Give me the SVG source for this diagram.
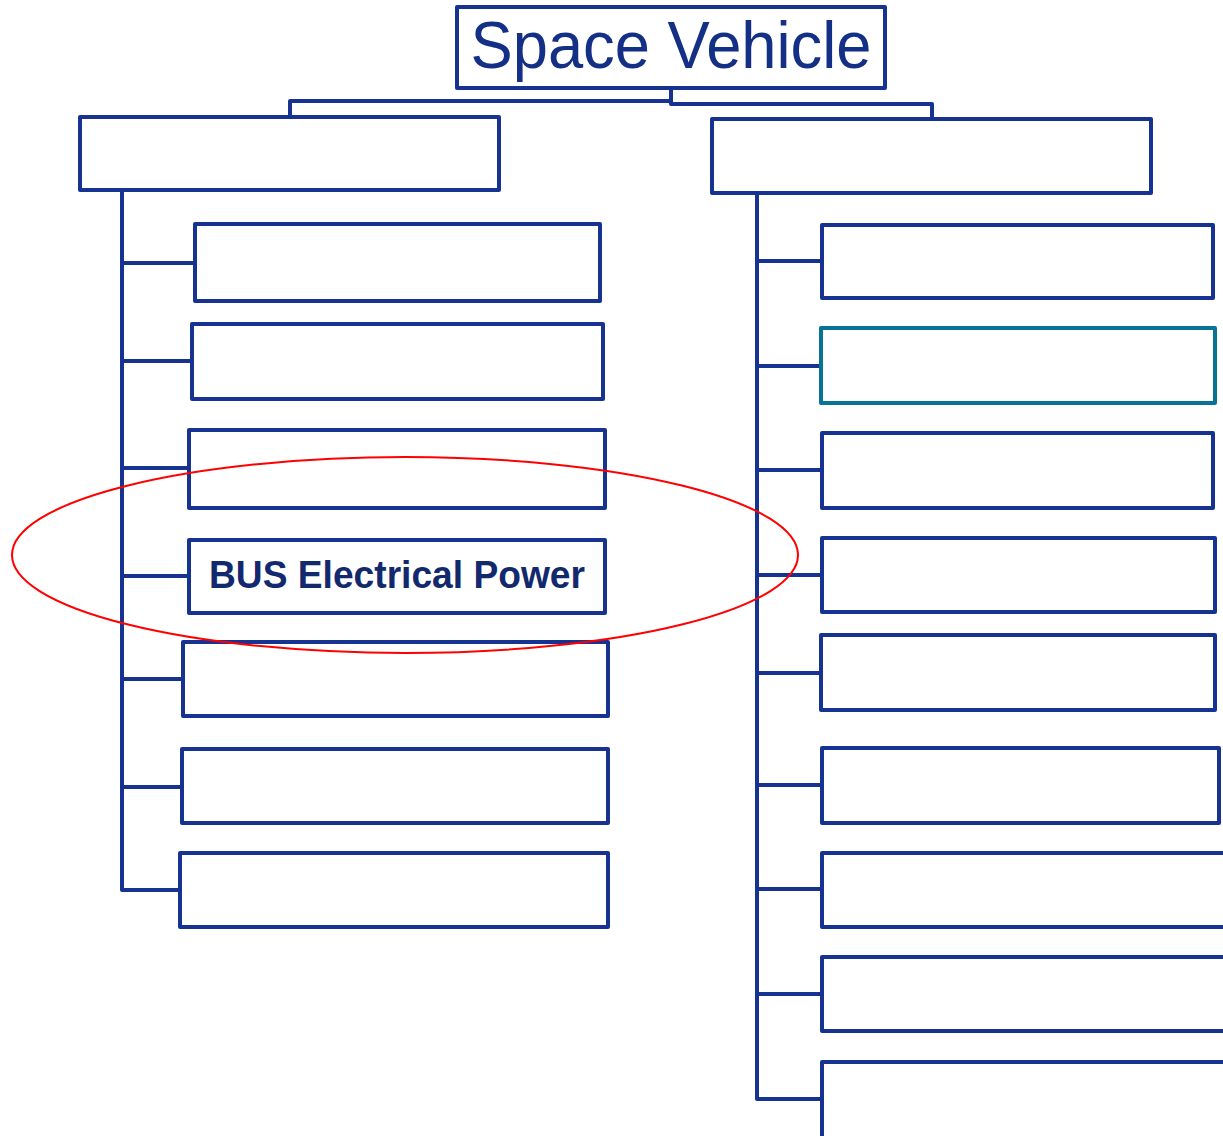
<svg xmlns="http://www.w3.org/2000/svg" width="1223" height="1136" viewBox="0 0 1223 1136">
<style>
.box{fill:#fff;stroke:#163391;stroke-width:4;stroke-linejoin:round}
.teal{fill:#fff;stroke:#097396;stroke-width:4;stroke-linejoin:round}
.ln{fill:none;stroke:#163391;stroke-width:4;stroke-linejoin:round}
.t1{font-family:"Liberation Sans",Arial,sans-serif;font-size:66px;fill:#142f86}
.t2{font-family:"Liberation Sans",Arial,sans-serif;font-size:39px;font-weight:bold;fill:#13296e}
</style>
<rect width="1223" height="1136" fill="#fff"/>
<g id="connectors">
<path class="ln" d="M671,88 V101 H290 V117"/>
<path class="ln" d="M671,101 V104 H932 V119"/>
<path class="ln" d="M122,190 V890 H180"/>
<path class="ln" d="M122,263 H195 M122,361 H192 M122,468 H189 M122,576 H189 M122,679 H183 M122,787 H182"/>
<path class="ln" d="M757,193 V1099 H822"/>
<path class="ln" d="M757,261 H822 M757,366 H821 M757,470 H822 M757,575 H822 M757,673 H821 M757,785 H822 M757,889 H822 M757,994 H822"/>
</g>
<g id="n-space-vehicle">
<rect class="box" x="457" y="7" width="428" height="81"/>
<text class="t1" x="671" y="68" text-anchor="middle" textLength="401" lengthAdjust="spacingAndGlyphs">Space Vehicle</text>
</g>
<g id="n-left"><rect class="box" x="80" y="117" width="419" height="73"/></g>
<g id="n-right"><rect class="box" x="712" y="119" width="439" height="74"/></g>
<g id="n-l1"><rect class="box" x="195" y="224" width="405" height="77"/></g>
<g id="n-l2"><rect class="box" x="192" y="324" width="411" height="75"/></g>
<g id="n-l3"><rect class="box" x="189" y="430" width="416" height="78"/></g>
<g id="n-l4">
<rect class="box" x="189" y="540" width="416" height="73"/>
<text class="t2" x="397" y="588" text-anchor="middle" textLength="376" lengthAdjust="spacingAndGlyphs">BUS Electrical Power</text>
</g>
<g id="n-l5"><rect class="box" x="183" y="642" width="425" height="74"/></g>
<g id="n-l6"><rect class="box" x="182" y="749" width="426" height="74"/></g>
<g id="n-l7"><rect class="box" x="180" y="853" width="428" height="74"/></g>
<g id="n-r1"><rect class="box" x="822" y="225" width="391" height="73"/></g>
<g id="n-r2"><rect class="teal" x="821" y="328" width="394" height="75"/></g>
<g id="n-r3"><rect class="box" x="822" y="433" width="391" height="75"/></g>
<g id="n-r4"><rect class="box" x="822" y="538" width="393" height="74"/></g>
<g id="n-r5"><rect class="box" x="821" y="635" width="394" height="75"/></g>
<g id="n-r6"><rect class="box" x="822" y="748" width="397" height="75"/></g>
<g id="n-r7"><rect class="box" x="822" y="853" width="410" height="74"/></g>
<g id="n-r8"><rect class="box" x="822" y="957" width="410" height="74"/></g>
<g id="n-r9"><rect class="box" x="822" y="1062" width="410" height="84"/></g>
<ellipse id="highlight" cx="405" cy="555" rx="393" ry="98" fill="none" stroke="#f00" stroke-width="2"/>
</svg>
